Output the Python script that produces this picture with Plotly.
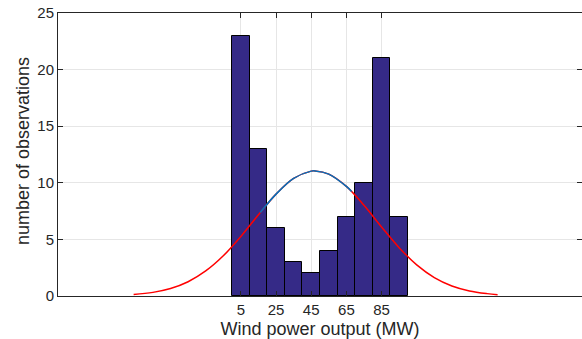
import plotly.graph_objects as go

# Histogram data
bin_centers = [5, 15, 25, 35, 45, 55, 65, 75, 85, 95]
counts = [23, 13, 6, 3, 2, 4, 7, 10, 21, 7]

# Fitted normal curve
curve_x = [-56, -45, -35, -25, -15, -5, 5, 15, 25, 35, 45, 47.2, 55, 65, 75, 85, 95, 105, 115, 125, 135, 145, 151]
curve_y = [0.13, 0.32, 0.66, 1.26, 2.21, 3.55, 5.26, 7.18, 9.00, 10.39, 11.03, 11.05, 10.77, 9.68, 8.01, 6.10, 4.27, 2.75, 1.63, 0.89, 0.45, 0.21, 0.12]

# Highlighted (blue) part of the curve
blue_x = [16, 25, 35, 45, 47.2, 55, 65, 68]
blue_y = [7.37, 9.00, 10.39, 11.03, 11.05, 10.77, 9.68, 9.23]

x_ticks = [5, 25, 45, 65, 85]
y_ticks = [0, 5, 10, 15, 20, 25]

FONT = "Liberation Sans, Arial, sans-serif"

fig = go.Figure()
fig.add_trace(go.Bar(x=bin_centers, y=counts, width=10,
                     marker=dict(color="#352A87", line=dict(color="black", width=1)),
                     showlegend=False))
fig.add_trace(go.Scatter(x=curve_x, y=curve_y, mode="lines",
                         line=dict(color="#FF0000", width=1.5, shape="spline"),
                         showlegend=False))
fig.add_trace(go.Scatter(x=blue_x, y=blue_y, mode="lines",
                         line=dict(color="#0072BD", width=1.5, shape="spline"),
                         showlegend=False))

axis_common = dict(showline=True, linecolor="#262626", linewidth=1, mirror="ticks",
                   ticks="inside", ticklen=5, tickcolor="#262626", automargin=False,
                   ticklabeloverflow="allow",
                   showgrid=True, gridcolor="#E6E6E6", gridwidth=1, zeroline=False,
                   tickfont=dict(family=FONT, size=15, color="#262626"))

fig.update_xaxes(range=[-99, 199], tickvals=x_ticks, ticktext=[str(t) for t in x_ticks],
                 title=dict(text="Wind power output (MW)",
                            font=dict(family=FONT, size=18, color="#262626")),
                 **axis_common)
fig.update_yaxes(range=[0, 25], tickvals=y_ticks, **axis_common)

fig.add_annotation(text="number of observations", xref="paper", yref="paper",
                   x=-35 / 524, y=0.512, xanchor="center", yanchor="middle",
                   textangle=-90, showarrow=False,
                   font=dict(family=FONT, size=18, color="#262626"))

fig.update_layout(width=582, height=339, margin=dict(l=58, r=0, t=13, b=43),
                  paper_bgcolor="white", plot_bgcolor="white", bargap=0)

fig.write_html("out.html", config={"displayModeBar": False},
               post_script="document.body.style.margin='0';")
